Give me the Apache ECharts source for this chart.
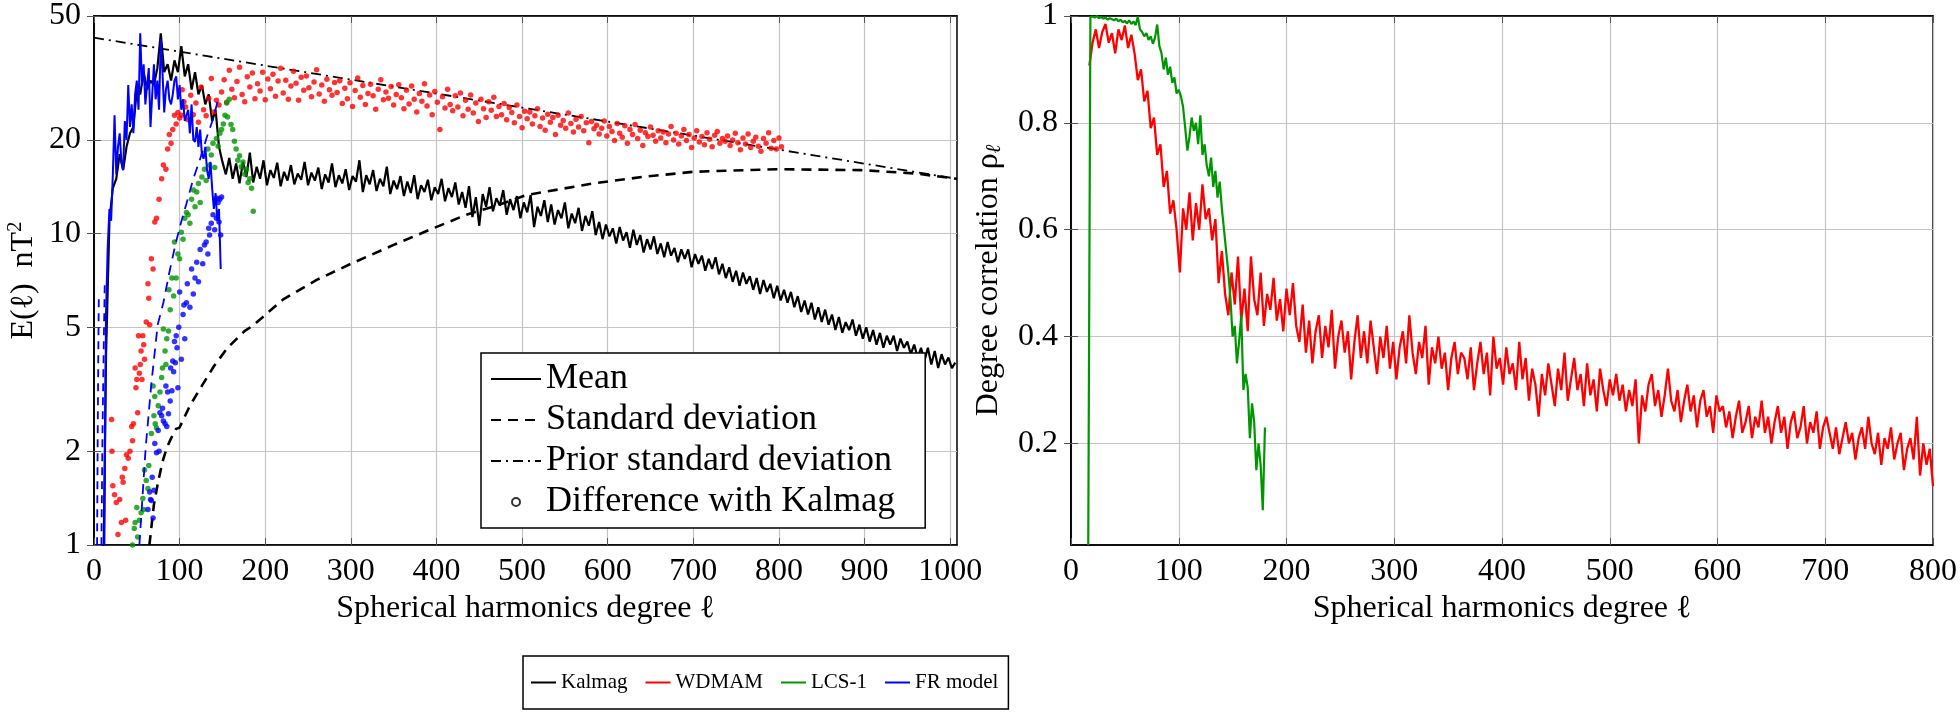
<!DOCTYPE html>
<html>
<head>
<meta charset="utf-8">
<script src="https://cdn.jsdelivr.net/npm/echarts@6/dist/echarts.min.js"></script>
<style>
html, body { margin: 0; padding: 0; background: #fff; }
#chart { width: 1960px; height: 713px; }
</style>
</head>
<body>
<div id="chart"></div>
<script>
// ---- left panel: E(l) spectra, log scale ----
const X_TICKS_LEFT = [0, 100, 200, 300, 400, 500, 600, 700, 800, 900, 1000]
const Y_TICKS_LEFT = [1, 2, 5, 10, 20, 50]

// Kalmag mean, degree 10..1006 every 4
const MEAN_START = 10
const MEAN_STEP = 4
const KALMAG_MEAN = [
  0.5, 4, 11, 14, 15, 18, 16, 19, 21, 22,
  29, 28, 33, 29, 31, 30, 34, 44, 33, 35,
  31, 36, 33, 40, 32, 35, 29, 33, 28, 30,
  26, 28, 23, 25, 19, 17, 15.5, 17.5, 15, 16.8,
  14.5, 17, 15.2, 18.2, 14.6, 16.4, 15, 17.2, 14.3, 16,
  15.1, 16.9, 14.2, 15.8, 14.8, 16.6, 14.4, 15.6, 14.9, 17,
  14.3, 15.7, 14.8, 16.3, 13.9, 15.5, 14.6, 16.8, 14.1, 15.4,
  14.5, 16.1, 13.8, 15.3, 14.7, 17.2, 13.6, 15.4, 14.4, 16,
  13.7, 15, 14.2, 16.4, 13.4, 14.8, 13.9, 15.3, 13.2, 14.7,
  13.5, 15.4, 12.9, 14.3, 13.6, 14.9, 12.8, 14.1, 13.4, 15,
  12.7, 14, 13.1, 14.6, 12.4, 13.6, 12.1, 14.2, 11.3, 13.1,
  10.6, 13.4, 12.2, 14.1, 11.8, 13, 12.3, 13.8, 11.5, 12.9,
  11.9, 13.2, 11.2, 12.6, 11.7, 13.3, 10.5, 12.2, 11.4, 12.8,
  10.9, 12.4, 10.7, 11.9, 11.2, 12.6, 10.4, 11.6, 10.8, 12.1,
  10.2, 11.4, 10.6, 11.8, 9.9, 10.9, 9.6, 10.7, 9.8, 10.4,
  9.3, 10.5, 9.5, 10.1, 9, 10.3, 9.2, 9.9, 8.7, 9.6,
  8.9, 9.8, 8.6, 9.3, 8.4, 9.4, 8.5, 9, 8.1, 8.9,
  8.3, 8.9, 7.8, 8.6, 8, 8.5, 7.6, 8.3, 7.7, 8.4,
  7.4, 8, 7.2, 7.8, 7, 7.6, 6.8, 7.5, 6.9, 7.3,
  6.6, 7.2, 6.4, 7.1, 6.5, 6.9, 6.2, 6.8, 6.1, 6.6,
  6, 6.5, 5.8, 6.3, 5.6, 6.1, 5.5, 6, 5.3, 5.8,
  5.2, 5.7, 5.1, 5.5, 4.9, 5.4, 4.8, 5.2, 4.9, 5.3,
  4.7, 5.1, 4.6, 5, 4.5, 4.9, 4.4, 4.8, 4.3, 4.7,
  4.4, 4.7, 4.2, 4.6, 4.3, 4.5, 4.1, 4.4, 4, 4.3,
  3.9, 4.3, 3.8, 4.2, 3.7, 4.1, 3.8, 4, 3.7, 3.85
]

// Kalmag standard deviation [degree, value]
const KALMAG_STD = [
  [64.7, 1], [70, 1.35], [75, 1.6], [80, 1.85], [85, 2.05], [90, 2.2], [95.8, 2.36], [99.8, 2.38],
  [105, 2.55], [112, 2.8], [124.6, 3.2], [140, 3.75], [156, 4.3], [175.7, 4.86], [185, 5.05],
  [221, 6.15], [260, 7.1], [300, 8], [350, 9.2], [396, 10.4], [435, 11.5], [474, 12.4], [505, 13.3],
  [583, 14.5], [640, 15.2], [700, 15.8], [797, 16.1], [895, 16], [960, 15.6], [1008, 15]
]

// prior standard deviation [degree, value]
const PRIOR_STD = [[0, 42.6], [250, 32.9], [500, 25.4], [750, 19.6], [1008, 15]]

// FR model spectrum, degree 10..148 every 2
const FR_START = 10
const FR_STEP = 2
const FR_MODEL = [
  0.6, 0.9, 5.5, 9, 12, 11, 15.5, 24, 15.5, 19,
  21, 17, 16, 23, 20, 30, 22, 26, 21, 28,
  31, 25, 44, 30, 35, 26, 30, 34, 22, 28,
  35, 27, 31, 25, 42, 33, 24.5, 29, 31, 27,
  26, 28, 31, 32, 27, 30, 25, 27, 23, 22.8,
  25, 21, 26, 20, 19.7, 22, 19, 21.6, 18, 17.4,
  19, 16, 15, 17, 14, 12, 13.5, 11, 12, 7.7
]

// FR model standard deviation [degree, value], low-degree branches and main branch
const FR_STD_LOW = [[3.5, 0.9], [4.3, 2.2], [5, 4], [5.6, 6.2]]
const FR_STD_LOW2 = [[8.5, 0.9], [10, 2.4], [11.5, 4.6], [12.6, 7]]
const FR_STD = [
  [53, 1], [60.4, 2.06], [67, 3.3], [74.4, 5.1], [81, 6], [88, 7.5], [95, 9.2], [101, 10.7],
  [108, 12.5], [116, 15], [124, 17.4], [132, 20.5], [139, 23.3], [145, 27]
]

// WDMAM - Kalmag differences: low degrees [degree, value], then every 3 degrees from 107
const WDMAM_DIFF_LOW = [
  [20.5, 2.53], [21, 2.0], [22, 1.55], [24, 1.45], [26, 1.37], [28, 1.08], [30, 1.4], [32, 1.18],
  [33, 1.65], [34, 1.59], [36, 1.76], [37, 1.2], [38, 1.95], [40, 1.9], [42, 2.0], [44, 2.4],
  [45, 2.16], [46, 2.45], [48, 3.7], [49, 3.2], [50, 3.4], [51, 2.66], [52, 4.7], [53, 3.56],
  [54, 3.8], [55, 4.2], [56, 3.4], [57, 4.7], [58, 4.4], [59, 3.95], [61, 5.2], [63, 6.9],
  [64, 6.2], [65, 5.1], [67, 8.3], [69, 7.7], [71, 10.9], [73, 11.2], [76, 12.9], [79, 15],
  [81, 16.6], [84, 16.1], [86, 18.7], [88, 20.8], [90, 19.5], [92, 21.6], [94, 24], [96, 22.5],
  [98, 24.5], [100, 23.5], [102, 24], [103, 29], [105, 26.5]
]
const WDMAM_DIFF_START = 107
const WDMAM_DIFF_STEP = 3
const WDMAM_DIFF = [
  25.5, 23.2, 27.8, 24.1, 26.3, 22.8, 29.5, 25.0, 23.9, 27.2, 31.5, 24.6, 26.8, 25.9,
  28.5, 31.2, 26.4, 33.5, 29.1, 27.3, 30.8, 34.2, 28.0, 26.5, 31.9, 29.6, 32.8, 27.1, 30.3, 28.7, 33.0, 26.9, 31.4,
  29.2, 32.5, 27.6, 30.9, 34.0, 28.3, 31.1, 27.0, 29.8, 33.2, 30.4, 26.8, 31.8, 28.9, 32.1, 29.4, 27.5, 30.7, 33.6, 28.1, 30.0, 26.6, 31.3, 29.0, 27.8, 30.6,
  28.4, 31.0, 26.2, 29.3, 27.1, 30.5, 25.6, 28.8, 31.6, 27.4, 29.9, 26.0, 28.2, 30.2, 27.7, 25.1, 29.1, 31.2, 26.9, 28.5, 27.2, 29.7, 25.9, 28.0, 30.1,
  27.3, 25.2, 28.9, 26.1, 29.8, 27.0, 24.6, 28.2, 26.6, 30.3, 25.7, 27.9, 24.1, 28.6, 26.4, 21.6, 27.5, 25.3, 29.1, 26.0,
  24.8, 27.7, 25.5, 28.3, 23.9, 26.8, 25.1, 27.9, 24.4, 26.3, 22.9, 27.0, 25.2, 23.6, 26.5, 24.9, 27.4, 23.8, 25.6,
  24.1, 26.2, 23.2, 25.4, 24.5, 22.7, 25.9, 23.8, 21.9, 24.7, 23.4,
  24.6, 22.5, 23.9, 25.2, 22.1, 23.5, 21.5, 24.2, 22.8, 23.6, 20.8, 24.0, 22.3, 23.1, 21.8, 24.4, 22.6, 21.2, 23.3, 22.0, 23.8, 21.4, 22.7, 19.6, 22.9, 21.7,
  22.3, 20.9, 21.8, 23.0, 20.6, 22.1, 21.3, 19.9, 22.6, 21.0, 20.4, 22.2, 19.5, 21.6, 20.8, 22.4, 20.2, 21.5, 19.2, 21.1, 20.5, 22.0, 20.7, 19.8, 21.4, 20.3,
  21.2, 19.6, 20.9, 22.1, 20.0, 21.0, 19.4, 20.6, 21.6, 19.9, 20.8, 18.9, 20.3, 21.4, 19.7, 20.5, 19.3, 21.1, 20.1, 19.0, 20.7, 21.3, 19.5, 20.2, 19.8,
  20.6, 19.2, 20.0, 21.0, 19.6, 18.6, 20.3, 19.4, 20.9, 18.9, 19.8, 20.4, 19.1, 18.4, 20.2, 19.5, 21.1, 18.8, 19.9, 18.7, 20.3, 19.0
]

// LCS-1 - Kalmag differences [degree, value]
const LCS_DIFF = [
  [45, 1.0], [47, 1.13], [48, 1.18], [50, 1.32], [51, 1.06], [53, 1.2], [55, 1.27], [57, 1.41],
  [58, 1.3], [59, 1.74], [61, 1.61], [63, 1.52], [64, 1.8], [67, 2.28], [69, 3.24], [70, 2.6],
  [71, 3.0], [71.5, 2.45], [73, 2.38], [75, 2.8], [77, 3.1], [79, 3.45], [80, 3.7], [81, 4.94],
  [83, 4.2], [84, 3.8], [85, 4.6], [87, 4.87], [89, 5.7], [87.5, 6.6], [91, 7.2], [93, 6.3],
  [94, 9.4], [96, 7.2], [98, 8.6], [100, 8.3], [102, 10.1], [104, 9.6], [106, 11.2], [108, 11.7],
  [110, 11.5], [112, 10.8], [114, 12.9], [116, 13.8], [118, 12.2], [120, 13.6], [122, 14.5], [124, 12.6],
  [126, 15.2], [129, 16.1], [131, 14.8], [133, 18.7], [135, 16.6], [137, 17.9], [139, 19.5], [141, 16.3],
  [143, 20.2], [145, 19.1], [147, 21.0], [149, 21.6], [151, 22.5], [153, 24], [155, 26.3], [156, 23.7],
  [158, 27], [160, 22.4], [162, 21.6], [164, 19.8], [166, 18.7], [168, 17.2], [170, 17.8], [172, 16.4],
  [174, 17], [176, 15.5], [178, 16.1], [180, 14.6], [182, 15], [184, 14], [186, 11.8]
]

// FR model - Kalmag differences [degree, value]
const FR_DIFF = [
  [63, 1.3], [65, 1.48], [66, 1.4], [67, 1.39], [68, 1.65], [69, 1.22], [70, 1.5], [71, 2.12],
  [73, 1.98], [75, 2.33], [76, 2.0], [77, 2.66], [79, 2.6], [80, 2.75], [81, 2.5], [83, 2.45],
  [84, 3.24], [85, 2.4], [86, 3.1], [87, 2.64], [89, 2.9], [89.5, 3.7], [91, 3.13], [92, 3.9],
  [93, 3.6], [94, 4.5], [95, 3.85], [96, 4.7], [97, 4.3], [98, 3.2], [99, 5.0], [102, 3.95],
  [104, 5.5], [106, 4.6], [108, 6.0], [100, 6.5], [105, 5.9], [109, 6.9], [112, 5.8], [116, 6.4],
  [114, 7.7], [118, 7.2], [120, 8.1], [122, 7.0], [124, 8.9], [127, 8.0], [129, 9.2], [131, 9.4],
  [133, 8.6], [134, 10.4], [135, 9.9], [137, 10.8], [139, 11.5], [141, 10.3], [143, 11.2], [144, 13.0],
  [145, 12.6], [146, 10.9], [147, 12.9], [148, 9.9], [149, 13.1]
]

// ---- right panel: degree correlation ----
const X_TICKS_RIGHT = [0, 100, 200, 300, 400, 500, 600, 700, 800]
const Y_TICKS_RIGHT = [0.2, 0.4, 0.6, 0.8, 1]

// WDMAM correlation, degree 17..800 every 3
const WDMAM_CORR_START = 17
const WDMAM_CORR_STEP = 3
const WDMAM_CORR = [
  0.907, 0.95, 0.975, 0.94, 0.97, 0.985, 0.95, 0.968, 0.93, 0.975, 0.955, 0.982, 0.94, 0.965,
  0.93, 0.88, 0.9, 0.84, 0.86, 0.79, 0.81, 0.74, 0.76, 0.68, 0.71, 0.63, 0.655, 0.6,
  0.52, 0.64, 0.6, 0.67, 0.58, 0.65, 0.6, 0.685, 0.62, 0.64, 0.58, 0.62, 0.5, 0.56,
  0.48, 0.44, 0.52, 0.46, 0.55, 0.43, 0.49, 0.41, 0.55, 0.47, 0.44, 0.52, 0.42, 0.48, 0.45, 0.51, 0.43, 0.47, 0.41, 0.49, 0.44, 0.5,
  0.42, 0.39, 0.46, 0.37, 0.43, 0.35, 0.41, 0.44, 0.36, 0.42, 0.38, 0.45, 0.34, 0.4, 0.43, 0.37, 0.41, 0.32, 0.39, 0.44, 0.36,
  0.41, 0.35, 0.43, 0.38, 0.33, 0.4, 0.36, 0.42, 0.34, 0.39, 0.32, 0.38, 0.41, 0.35, 0.44, 0.37, 0.33, 0.39, 0.36, 0.42,
  0.31, 0.38, 0.35, 0.4, 0.34, 0.37, 0.3, 0.36, 0.39, 0.33, 0.37,
  0.36, 0.32, 0.38, 0.3, 0.35, 0.39, 0.33, 0.37, 0.29, 0.4, 0.34, 0.36, 0.31, 0.38, 0.33, 0.35, 0.3, 0.39, 0.32, 0.36,
  0.28, 0.34, 0.31, 0.25, 0.33, 0.29, 0.35, 0.31, 0.27, 0.34, 0.3, 0.37, 0.28, 0.32, 0.36, 0.3, 0.33, 0.27, 0.35, 0.29,
  0.32, 0.26, 0.34, 0.3, 0.27, 0.32, 0.29,
  0.33, 0.28, 0.31, 0.26, 0.3, 0.27, 0.32, 0.2, 0.29, 0.26, 0.31, 0.33, 0.27, 0.3, 0.25, 0.29, 0.34,
  0.28, 0.26, 0.3, 0.24, 0.28, 0.31, 0.26, 0.29, 0.23, 0.28, 0.3, 0.25, 0.27, 0.22, 0.29, 0.26,
  0.27, 0.23, 0.26, 0.21, 0.25, 0.28, 0.22, 0.24, 0.27, 0.21, 0.25, 0.23, 0.28, 0.22, 0.25, 0.2, 0.24,
  0.27, 0.22, 0.25, 0.19, 0.24, 0.26, 0.21, 0.23, 0.27, 0.2, 0.24, 0.22, 0.26, 0.19, 0.23, 0.25,
  0.22, 0.19, 0.23, 0.18, 0.21, 0.24, 0.2, 0.22, 0.17, 0.21, 0.23, 0.19, 0.25, 0.2, 0.18, 0.22, 0.16,
  0.21, 0.19, 0.23, 0.17, 0.2, 0.22, 0.15, 0.19, 0.21, 0.17, 0.25, 0.14, 0.2, 0.16, 0.19, 0.12
]

// LCS-1 correlation, degree 16..180 every 2
const LCS_CORR_START = 16
const LCS_CORR_STEP = 2
const LCS_CORR = [
  0.01,
  0.998, 0.999, 0.997, 1.0, 0.996, 0.998, 0.995, 0.997, 0.993, 0.996, 0.994, 0.992, 0.995, 0.99, 0.993, 0.988, 0.991, 0.986, 0.992, 0.985, 0.99, 0.983,
  0.999, 0.975, 0.97, 0.962, 0.968, 0.955, 0.962, 0.948, 0.96, 0.984,
  0.944, 0.93, 0.9, 0.922, 0.89, 0.905, 0.875, 0.885, 0.855, 0.862,
  0.85, 0.83, 0.79, 0.748, 0.775, 0.81, 0.785, 0.8, 0.76, 0.814,
  0.74, 0.76, 0.72, 0.7, 0.735, 0.68, 0.71, 0.66, 0.69, 0.64,
  0.6, 0.56, 0.52, 0.47, 0.4, 0.42, 0.35, 0.39, 0.44, 0.3,
  0.33, 0.305, 0.21, 0.275, 0.24, 0.15, 0.2, 0.16, 0.075, 0.23
]

const BLACK = '#000000'
const RED = '#ff0000'
const GREEN = '#009600'
const BLUE = '#0000ff'
const FONT = 'Liberation Serif, DejaVu Serif, serif'

const byStep = (arr, start, step) => arr.map((v, i) => [start + step * i, v])

const chart = echarts.init(document.getElementById('chart'), null, { renderer: 'canvas' })

const axisLineStyle = { lineStyle: { color: BLACK, width: 1.5 } }
const tickStyle = { inside: true, length: 7, lineStyle: { color: '#555' } }
const gridLine = { show: true, lineStyle: { color: '#c4c4c4', width: 1.2 } }
const labelStyle = { color: BLACK, fontSize: 32, fontFamily: FONT }
const nameStyle = {
  color: BLACK, fontSize: 32, fontFamily: FONT,
  rich: {
    sup: { fontSize: 21, fontFamily: FONT, verticalAlign: 'top', padding: [0, 0, 16, 0] },
    sub: { fontSize: 21, fontFamily: FONT, fontStyle: 'italic', padding: [12, 0, 0, 0] }
  }
}
// legend line entries: hide the marker, keep the line
const lineItem = name => ({ name, itemStyle: { opacity: 0 } })
// mirrored tick marks on the top / right edges of a panel
const mirrorAxis = (extra, ticks) => ({
  ...extra,
  axisLine: axisLineStyle,
  axisTick: { ...tickStyle, customValues: ticks },
  axisLabel: { show: false },
  splitLine: { show: false }
})

const option = {
  animation: false,
  backgroundColor: '#fff',
  textStyle: { fontFamily: FONT, color: BLACK },
  grid: [
    { left: 94, top: 13, width: 863, height: 532, show: true, borderColor: BLACK, borderWidth: 1.5 },
    { left: 1071, top: 13, width: 863, height: 532, show: true, borderColor: BLACK, borderWidth: 1.5 }
  ],
  xAxis: [
    {
      type: 'value', gridIndex: 0, min: 0, max: 1008,
      name: 'Spherical harmonics degree ℓ', nameLocation: 'middle', nameGap: 45, nameTextStyle: nameStyle,
      axisLine: axisLineStyle, axisTick: { ...tickStyle, customValues: X_TICKS_LEFT },
      axisLabel: { ...labelStyle, margin: 11, customValues: X_TICKS_LEFT, formatter: v => String(v) },
      splitLine: gridLine
    },
    {
      type: 'value', gridIndex: 1, min: 0, max: 800, interval: 100,
      name: 'Spherical harmonics degree ℓ', nameLocation: 'middle', nameGap: 45, nameTextStyle: nameStyle,
      axisLine: axisLineStyle, axisTick: { ...tickStyle, customValues: X_TICKS_RIGHT },
      axisLabel: { ...labelStyle, margin: 11, customValues: X_TICKS_RIGHT, formatter: v => String(v) },
      splitLine: gridLine
    },
    mirrorAxis({ type: 'value', gridIndex: 0, position: 'top', min: 0, max: 1008 }, X_TICKS_LEFT),
    mirrorAxis({ type: 'value', gridIndex: 1, position: 'top', min: 0, max: 800 }, X_TICKS_RIGHT)
  ],
  yAxis: [
    {
      type: 'log', logBase: 10, gridIndex: 0, min: 1, max: 50,
      name: 'E(ℓ)  nT{sup|2}', nameLocation: 'middle', nameGap: 52, nameTextStyle: nameStyle,
      axisLine: axisLineStyle, axisTick: { ...tickStyle, customValues: Y_TICKS_LEFT },
      axisLabel: { ...labelStyle, margin: 13, customValues: Y_TICKS_LEFT, formatter: v => String(+(+v).toPrecision(6)) },
      splitLine: gridLine
    },
    {
      type: 'value', gridIndex: 1, min: 0.01, max: 1,
      name: 'Degree correlation ρ{sub|ℓ}', nameLocation: 'middle', nameGap: 66, nameTextStyle: nameStyle,
      axisLine: axisLineStyle, axisTick: { ...tickStyle, customValues: Y_TICKS_RIGHT },
      axisLabel: { ...labelStyle, margin: 13, customValues: Y_TICKS_RIGHT, formatter: v => (v >= 0.999 ? '1' : (+v).toFixed(1)) },
      splitLine: gridLine
    },
    mirrorAxis({ type: 'log', logBase: 10, gridIndex: 0, position: 'right', min: 1, max: 50 }, Y_TICKS_LEFT),
    mirrorAxis({ type: 'value', gridIndex: 1, position: 'right', min: 0.01, max: 1 }, Y_TICKS_RIGHT)
  ],
  legend: [
    {
      // inner legend of the left panel: line styles
      data: [lineItem('Mean'), lineItem('Standard deviation'), lineItem('Prior standard deviation'), 'Difference with Kalmag'],
      orient: 'vertical', left: 481, top: 353,
      padding: [8, 30, 8, 9], itemGap: 5, itemWidth: 50, itemHeight: 8,
      backgroundColor: '#fff', borderColor: BLACK, borderWidth: 1.5,
      selectedMode: false,
      textStyle: { fontSize: 36, fontFamily: FONT, color: BLACK }
    },
    {
      // model colours, under the two panels
      data: [lineItem('Kalmag'), lineItem('WDMAM'), lineItem('LCS-1'), lineItem('FR model')],
      orient: 'horizontal', left: 523, top: 656,
      padding: [16, 10, 16, 7], itemGap: 17, itemWidth: 25, itemHeight: 8,
      borderColor: BLACK, borderWidth: 1.5,
      selectedMode: false,
      textStyle: { fontSize: 21, fontFamily: FONT, color: BLACK }
    }
  ],
  series: [
    {
      name: 'Mean', type: 'line', xAxisIndex: 0, yAxisIndex: 0, symbol: 'none',
      data: byStep(KALMAG_MEAN, MEAN_START, MEAN_STEP),
      lineStyle: { color: BLACK, width: 2.2 }, itemStyle: { color: BLACK }, z: 2
    },
    {
      name: 'Standard deviation', type: 'line', xAxisIndex: 0, yAxisIndex: 0, symbol: 'none',
      data: KALMAG_STD,
      lineStyle: { color: BLACK, width: 2.6, type: [10, 7] }, itemStyle: { color: BLACK }, z: 2
    },
    {
      name: 'Prior standard deviation', type: 'line', xAxisIndex: 0, yAxisIndex: 0, symbol: 'none',
      data: PRIOR_STD,
      lineStyle: { color: BLACK, width: 1.8, type: [10, 5, 2, 5] }, itemStyle: { color: BLACK }, z: 2
    },
    {
      name: 'WDMAM difference', type: 'scatter', xAxisIndex: 0, yAxisIndex: 0, symbolSize: 5.5,
      data: WDMAM_DIFF_LOW.concat(byStep(WDMAM_DIFF, WDMAM_DIFF_START, WDMAM_DIFF_STEP)),
      itemStyle: { color: RED }, z: 3
    },
    {
      name: 'LCS-1 difference', type: 'scatter', xAxisIndex: 0, yAxisIndex: 0, symbolSize: 5.5,
      data: LCS_DIFF, itemStyle: { color: GREEN }, z: 3
    },
    {
      name: 'FR model difference', type: 'scatter', xAxisIndex: 0, yAxisIndex: 0, symbolSize: 5.5,
      data: FR_DIFF, itemStyle: { color: BLUE }, z: 3
    },
    {
      name: 'FR model', type: 'line', xAxisIndex: 0, yAxisIndex: 0, symbol: 'none',
      data: byStep(FR_MODEL, FR_START, FR_STEP),
      lineStyle: { color: BLUE, width: 2 }, itemStyle: { color: BLUE }, z: 4
    },
    {
      name: 'FR model std', type: 'line', xAxisIndex: 0, yAxisIndex: 0, symbol: 'none',
      data: FR_STD, lineStyle: { color: BLUE, width: 1.8, type: [10, 7] }, itemStyle: { color: BLUE }, z: 4
    },
    {
      name: 'FR model std low', type: 'line', xAxisIndex: 0, yAxisIndex: 0, symbol: 'none',
      data: FR_STD_LOW, lineStyle: { color: BLUE, width: 1.8, type: [8, 6] }, itemStyle: { color: BLUE }, z: 4
    },
    {
      name: 'FR model std low 2', type: 'line', xAxisIndex: 0, yAxisIndex: 0, symbol: 'none',
      data: FR_STD_LOW2, lineStyle: { color: BLUE, width: 1.8, type: [8, 6] }, itemStyle: { color: BLUE }, z: 4
    },
    {
      // legend entry only
      name: 'Difference with Kalmag', type: 'scatter', xAxisIndex: 0, yAxisIndex: 0,
      data: [], symbol: 'circle',
      itemStyle: { color: '#fff', borderColor: BLACK, borderWidth: 1.5 }
    },
    {
      // legend entry only
      name: 'Kalmag', type: 'line', xAxisIndex: 0, yAxisIndex: 0, symbol: 'none',
      data: [], lineStyle: { color: BLACK, width: 3 }, itemStyle: { color: BLACK }
    },
    {
      name: 'WDMAM', type: 'line', xAxisIndex: 1, yAxisIndex: 1, symbol: 'none',
      data: byStep(WDMAM_CORR, WDMAM_CORR_START, WDMAM_CORR_STEP),
      lineStyle: { color: RED, width: 2.3 }, itemStyle: { color: RED }, z: 3
    },
    {
      name: 'LCS-1', type: 'line', xAxisIndex: 1, yAxisIndex: 1, symbol: 'none',
      data: byStep(LCS_CORR, LCS_CORR_START, LCS_CORR_STEP),
      lineStyle: { color: GREEN, width: 2.2 }, itemStyle: { color: GREEN }, z: 4
    }
  ]
}

chart.setOption(option)
window.addEventListener('resize', () => chart.resize())
</script>
</body>
</html>
